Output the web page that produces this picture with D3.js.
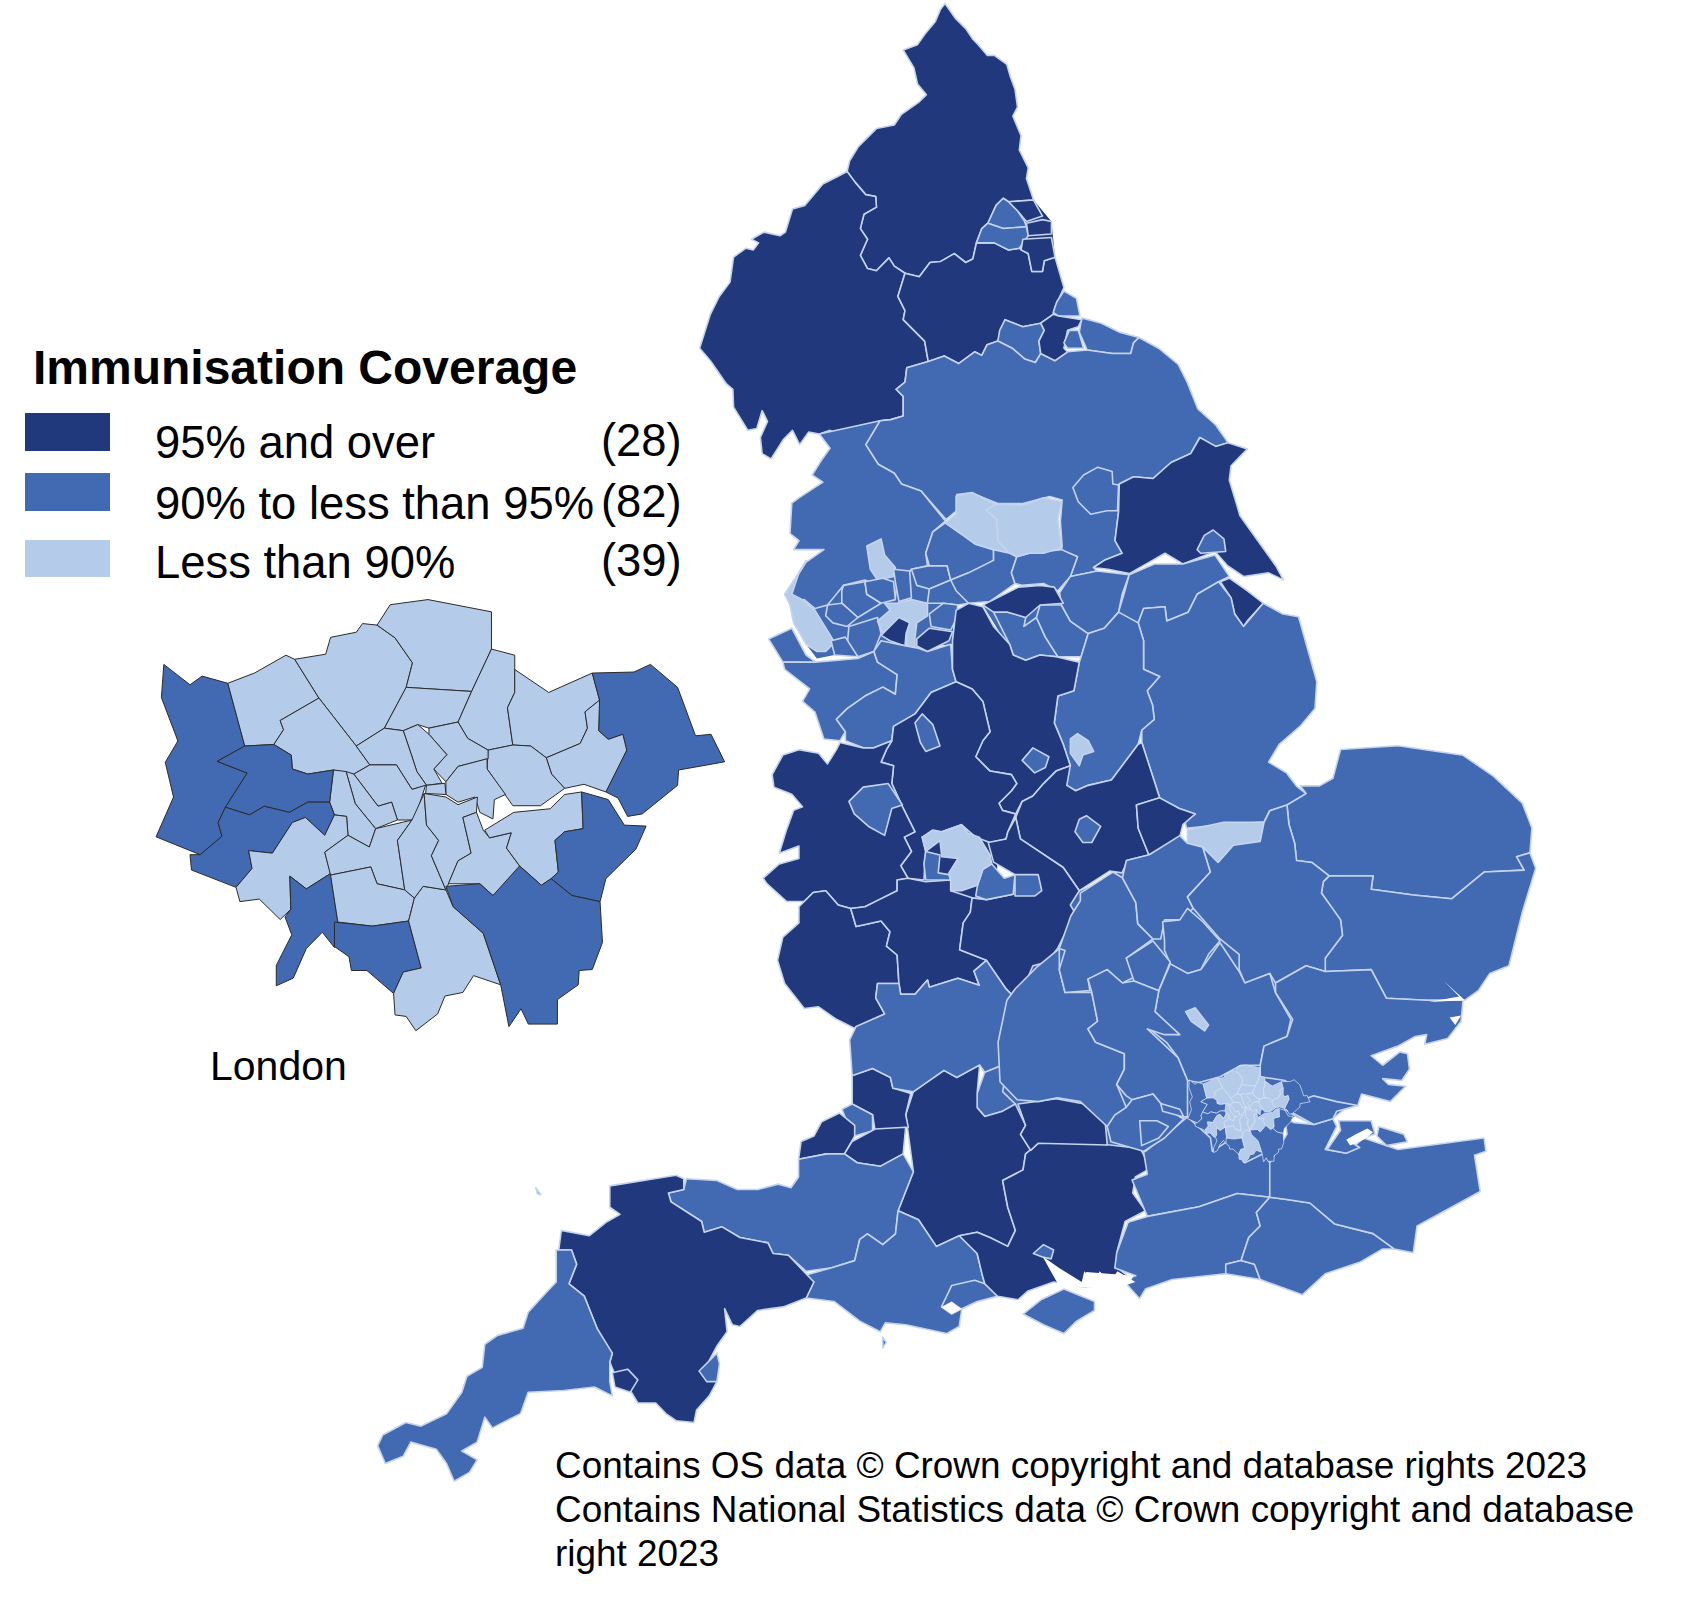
<!DOCTYPE html>
<html><head><meta charset="utf-8">
<script src="https://cdn.jsdelivr.net/npm/d3@7/dist/d3.min.js"></script>
<style>html,body{margin:0;background:#fff}svg{display:block}text{font-family:"Liberation Sans",Arial,sans-serif;fill:#000}</style>
</head><body><svg id="c" width="1698" height="1598"></svg>
<script>
const tierLabels=["95% and over","90% to less than 95%","Less than 90%"];
const tierCounts=["(28)","(82)","(39)"];
const tierColors=["#20387C","#426AB3","#B5CBEA"];
const legendTitle="Immunisation Coverage";
const insetLabel="London";
const creditLines=["Contains OS data © Crown copyright and database rights 2023","Contains National Statistics data © Crown copyright and database","right 2023"];

// area outlines: [coverage tier, outline in map units of that sheet]
const northAreas=[
[0,"742,10 770,50 800,80 820,110 835,125 860,155 880,155 915,180 925,215 938,250 945,300 932,325 955,380 950,420 975,470 970,500 990,560 920,565 905,555 885,575 862,625 845,640 830,680 820,725 800,735 768,710 730,732 700,735 670,775 630,765 600,745 585,722 550,758 525,752 505,715 525,670 505,640 515,600 550,580 548,550 520,545 490,510 468,480 475,450 500,410 550,360 600,350 620,320 670,285 690,265 665,235 655,190 625,140 665,125 690,90 715,60 730,25"],
[0,"468,480 490,510 520,545 548,550 550,580 515,600 505,640 525,670 505,715 525,752 550,758 585,722 600,745 630,765 610,830 630,870 625,895 685,955 695,1012 635,1030 630,1070 605,1090 625,1110 625,1165 590,1175 560,1178 520,1205 490,1205 465,1228 420,1205 390,1215 360,1210 335,1245 315,1205 290,1230 255,1285 230,1270 225,1225 245,1180 230,1150 215,1200 190,1205 150,1140 148,1090 130,1075 85,1010 55,975 85,880 110,830 140,790 150,720 185,695 205,700 220,680 200,670 235,650 280,660 295,650 315,585 350,575 400,515 440,495"],
[0,"630,765 670,775 700,735 730,732 768,710 800,735 820,725 830,680 880,680 920,700 950,695 975,710 985,760 1015,760 1020,730 1050,720 1075,805 1050,860 1045,880 1010,905 960,915 910,895 890,955 860,965 845,995 825,985 780,1018 740,997 695,1012 685,955 625,895 630,870 610,830"],
[1,"885,575 905,555 920,565 945,590 965,620 970,635 905,640 862,625"],
[1,"862,625 905,640 970,635 975,660 950,695 920,700 880,680 830,680 845,640"],
[0,"920,565 990,560 1015,605 970,620 945,590"],
[0,"970,625 1015,615 1040,620 1040,655 975,660"],
[0,"960,670 1040,665 1050,720 1020,730 1015,760 985,760 975,710 955,700"],
[1,"1075,815 1110,835 1120,885 1060,885 1045,875 1055,845"],
[1,"910,895 960,915 1010,905 1020,925 1005,955 1010,990 995,1015 965,1005 930,975 890,955 895,925"],
[1,"1125,890 1180,905 1230,930 1285,945 1270,960 1262,990 1210,990 1140,980 1118,930"],
[1,"635,1030 695,1012 740,997 780,1018 825,985 845,995 860,965 890,955 930,975 965,1005 995,1015 1010,990 1050,1010 1085,985 1140,980 1210,990 1262,990 1270,960 1285,945 1340,975 1395,1020 1420,1070 1450,1145 1500,1190 1535,1240 1500,1250 1455,1225 1430,1270 1375,1295 1325,1340 1270,1335 1230,1355 1228,1434 1218,1514 1238,1549 1188,1569 1158,1589 1168,1599 1093,1614 1113,1559 1068,1539 1070,1530 1065,1460 1070,1400 1035,1390 960,1410 890,1410 815,1380 775,1385 775,1430 745,1455 675,1375 620,1355 600,1325 555,1300 520,1245 560,1178 590,1175 625,1165 625,1110 605,1090 630,1070"],
[0,"1045,880 1060,885 1125,895 1115,915 1085,925 1075,975 1085,985 1050,1010 1010,990 1005,955 1020,925 1010,905"],
[1,"1090,925 1115,925 1130,975 1085,975 1075,960"],
[1,"1100,1365 1130,1330 1170,1308 1210,1320 1212,1355 1228,1358 1225,1430 1195,1430 1150,1440 1115,1405"]
];
const midlandAreas=[
[1,"392,-166 222,-129 252,-89 227,-54 202,-14 232,6 165,50 145,65 140,150 165,170 150,195 235,195 185,230 160,270 125,320 145,340 180,335 210,360 245,350 290,295 350,280 435,330 440,285 480,250 525,240 520,205 540,145 575,115 507,31 452,11 432,-19 387,-44 352,-99"],
[2,"355,185 395,165 405,210 435,245 430,270 385,280 365,250"],
[2,"125,320 155,275 185,225 165,260 145,320 175,335 210,365 250,430 265,455 240,480 215,480 185,460 150,400 140,350"],
[1,"290,295 350,285 355,320 395,345 330,385 285,345 285,310"],
[1,"245,350 285,345 330,385 300,410 260,400 240,380"],
[1,"350,285 400,275 430,285 435,335 395,345 355,320"],
[1,"430,250 475,255 480,330 445,340 435,285"],
[1,"480,250 530,240 580,240 590,280 530,305 495,295"],
[1,"530,305 590,280 640,345 610,350 570,345 525,345"],
[1,"305,410 385,385 395,430 375,480 330,495 300,465"],
[1,"255,450 295,440 330,495 265,490"],
[2,"405,345 440,345 480,335 525,345 525,380 495,400 490,440 490,470 465,465 470,395 440,395 400,430 385,395 420,365"],
[0,"395,435 445,385 475,400 465,430 462,465 420,450"],
[0,"495,445 530,415 595,425 585,450 525,480 495,465"],
[1,"530,375 570,345 610,350 605,390 590,420 535,410"],
[1,"80,445 145,415 185,490 215,512 120,510"],
[1,"575,120 625,155 660,180 710,195 710,225 640,260 590,280 580,240 530,240 520,205 540,145"],
[1,"590,280 640,260 710,225 710,195 735,190 775,215 760,260 770,290 700,340 640,345 605,310"],
[1,"775,215 810,205 900,195 945,215 925,270 890,310 850,290 790,295 770,290 760,260"],
[2,"575,120 605,95 605,45 650,35 715,68 690,85 720,110 722,170 755,205 710,195 660,180 625,155"],
[2,"715,68 790,70 850,50 900,60 890,110 900,190 850,205 810,205 775,215 755,205 722,170 720,110 690,85"],
[0,"1062,11 1102,-9 1156,-4 1207,-49 1262,-74 1288,-119 1332,-94 1366,-104 1421,-87 1375,-40 1370,0 1385,50 1400,100 1450,170 1500,240 1522,280 1480,260 1410,270 1365,240 1330,200 1240,235 1190,205 1155,225 1090,262 1030,250 990,245 1020,225 1070,205 1050,170 1060,90"],
[1,"1280,195 1300,155 1325,140 1355,165 1360,200 1290,205"],
[1,"120,510 210,510 330,500 375,480 385,510 440,545 435,600 400,580 350,605 300,640 270,670 295,705 280,730 235,725 210,650 175,620 195,585 125,530"],
[1,"375,480 395,450 465,465 495,470 525,480 590,460 595,530 605,565 535,595 490,655 430,690 425,730 375,750 345,750 295,730 295,705 270,670 300,640 350,605 400,580 435,600 440,545 385,510"],
[1,"710,370 750,370 800,385 795,410 830,385 855,440 890,495 840,490 800,505 765,490 755,460"],
[1,"830,385 840,350 900,350 925,395 975,430 955,495 890,495 855,440"],
[1,"895,315 925,270 1000,255 1090,265 1070,320 1060,370 1020,415 975,430 925,395 900,350"],
[1,"1090,265 1160,235 1240,235 1330,210 1370,270 1340,285 1280,320 1255,370 1195,395 1190,355 1130,360 1115,400 1060,385 1060,370 1075,320"],
[0,"1345,285 1370,275 1420,310 1465,345 1420,395 1410,410 1385,375 1375,330"],
[1,"1115,400 1130,360 1190,355 1195,395 1255,370 1280,320 1340,285 1375,330 1385,375 1410,410 1465,345 1520,375 1564,383 1615,565 1610,640 1568,690 1510,740 1480,790 1530,820 1558,857 1585,878 1532,910 1483,926 1467,958 1350,965 1250,975 1245,950 1275,935 1230,920 1175,890 1125,735 1125,700 1160,670 1155,630 1140,590 1175,550 1130,530 1130,450"],
[1,"975,430 1020,415 1060,370 1115,400 1130,450 1130,530 1175,550 1140,590 1155,630 1160,670 1125,700 1115,740 1040,840 975,855 940,870 915,855 905,810 925,800 905,740 880,680 890,605 935,590 950,510 955,495"],
[2,"925,725 945,710 975,730 990,760 960,770 950,800 925,765"],
[0,"605,365 640,345 680,355 710,410 755,460 765,490 800,505 840,490 885,495 950,510 935,590 890,605 880,680 905,740 925,800 885,815 850,850 820,885 790,900 772,935 735,925 725,905 760,870 775,850 760,825 700,815 660,775 680,730 700,705 680,620 650,585 605,565 595,530 595,450"],
[1,"790,785 820,750 865,775 855,805 825,820"],
[0,"680,350 780,300 840,295 880,300 905,345 840,350 800,385 750,370 710,370"],
[0,"885,815 925,800 915,855 940,870 975,855 1040,840 1115,740 1125,735 1175,890 1110,910 1115,975 1145,1050 1085,1065 1070,1100 1035,1095 950,1150 905,1085 785,1005 772,945 790,900 820,885 850,850"],
[1,"950,950 970,940 1010,970 985,1015 960,1015 938,985"],
[0,"1110,910 1175,890 1230,920 1275,935 1240,965 1230,1005 1145,1050 1115,975"],
[0,"430,690 490,655 535,595 605,565 650,585 680,620 700,705 680,730 660,775 700,815 760,825 775,850 760,870 725,905 735,925 772,935 750,985 745,1005 700,1015 660,1000 620,965 565,985 510,1000 520,1040 515,1120 470,1115 450,1080 480,1040 460,1000 490,985 455,915 425,850 430,800 395,790 410,755 425,730"],
[1,"490,680 510,655 540,685 560,745 520,760 505,735"],
[0,"280,735 345,750 375,750 425,730 410,755 395,790 430,800 425,850 455,915 490,985 460,1000 480,1040 450,1080 470,1115 440,1120 440,1150 390,1175 350,1195 310,1200 275,1190 240,1150 205,1155 180,1180 130,1180 75,1130 65,1115 110,1075 165,1060 165,1025 110,1045 130,980 150,925 175,915 145,880 95,860 90,825 120,770 165,755 220,765 245,795 270,755"],
[1,"305,900 345,860 415,850 455,910 425,920 405,995 360,970 320,935"],
[0,"205,1155 240,1150 275,1190 310,1200 325,1250 395,1235 420,1265 410,1305 440,1330 445,1410 385,1410 380,1450 405,1495 320,1535 270,1510 220,1475 180,1480 125,1410 105,1345 120,1280 165,1240 165,1195"],
[0,"310,1200 350,1195 390,1175 440,1150 440,1120 470,1115 520,1125 590,1120 590,1150 650,1170 645,1210 625,1240 615,1315 690,1345 655,1375 670,1415 610,1395 530,1420 525,1400 490,1440 450,1440 445,1410 440,1330 410,1305 420,1265 395,1235 325,1250"],
[0,"750,985 772,945 785,1005 905,1085 950,1150 925,1190 940,1215 915,1260 890,1310 860,1350 820,1360 795,1420 765,1445 745,1425 690,1345 615,1315 625,1240 645,1210 650,1170 690,1175 765,1160 770,1105 710,1070 695,1015 745,1005"],
[1,"520,1040 560,1050 555,1100 585,1105 590,1120 520,1120 515,1075"],
[1,"705,1075 740,1115 770,1105 765,1160 690,1175 660,1165 665,1135 680,1090"],
[1,"770,1105 835,1105 845,1150 825,1165 770,1165"],
[2,"510,1000 540,980 565,985 620,965 640,990 670,1000 700,1050 705,1075 680,1090 665,1135 620,1150 590,1150 590,1120 585,1100 610,1060 565,1055 560,1010 520,1040"],
[1,"325,1530 405,1495 380,1450 385,1410 445,1410 450,1440 490,1440 525,1400 530,1420 610,1395 670,1415 655,1375 690,1345 745,1425 765,1445 735,1540 735,1638 685,1658 671,1638 607,1673 571,1653 485,1713 428,1703 421,1673 371,1648 314,1668 307,1568"]
];
const southAreas=[
[1,"1190,150 1205,90 1240,70 1245,105 1240,145 1265,180 1240,200 1205,215 1190,190"],
[0,"1065,145 1125,85 1150,105 1195,70 1190,150 1190,190 1205,215 1240,200 1265,180 1285,240 1275,265 1295,310 1285,320 1280,365 1240,395 1250,470 1265,535 1250,580 1215,555 1190,540 1155,550 1110,580 1075,505 1035,480 1065,370 1050,210"],
[0,"945,100 985,80 1020,105 1025,135 1060,150 1050,210 1055,245 990,255 985,210 945,180"],
[1,"925,195 945,180 985,210 985,255 950,270 930,290 935,230"],
[0,"885,230 920,205 950,240 950,270 930,320 895,320 840,335 845,285 870,270"],
[0,"945,285 990,250 1050,245 1045,320 1000,355 955,345 930,320"],
[1,"840,335 895,320 930,320 955,345 1000,355 1045,320 1065,370 1035,480 1030,545 1005,575 975,545 960,560 950,620 905,640 855,650 820,605 790,600 780,570 725,555 690,525 655,540 650,510 590,455 585,430 615,420 620,390 680,395 720,420 760,420 800,405 825,415 840,385"],
[1,"855,660 905,640 950,620 960,560 975,545 1005,575 1030,545 1035,480 1075,505 1110,580 1155,550 1190,600 1200,660 1205,685 1230,720 1190,735 1160,755 1155,805 1130,825 1050,800 1010,795 1000,820 960,790 910,735 855,725 870,680"],
[1,"1120,750 1140,690 1185,675 1205,685 1230,720 1190,735 1160,755 1140,770"],
[0,"370,590 375,535 430,550 465,510 490,490 470,470 470,410 600,380 615,390 615,420 585,430 590,455 650,510 655,540 690,525 725,555 780,570 790,600 820,605 870,680 855,725 810,750 760,760 725,805 710,800 695,755 700,820 680,860 665,900 680,960 665,1000 640,1040 635,1075 600,1070 580,1050 560,1020 525,1020 510,985 480,940 470,905 475,880 455,850 445,810 420,720 390,685 405,630 395,590"],
[0,"475,935 505,925 525,955 510,990 480,975"],
[1,"645,930 680,880 685,910 680,960 660,960"],
[1,"365,590 395,590 405,630 390,685 420,720 445,810 475,880 470,905 470,960 475,1000 440,975 380,985 310,990 295,1050 240,1090 225,1060 210,1130 180,1155 210,1180 195,1215 165,1240 150,1190 130,1150 80,1130 65,1170 30,1190 15,1140 25,1110 70,1075 100,1085 150,1050 180,990 190,945 220,920 225,855 250,830 300,810 310,765 345,710 365,680"],
[1,"325,415 335,435 328,432"],
[1,"1005,835 1012,850 1005,865"],
[0,"1155,550 1190,540 1215,555 1250,580 1265,535 1250,470 1240,395 1280,365 1285,320 1310,290 1420,290 1510,305 1530,360 1500,385 1495,430 1520,480 1480,510 1465,590 1465,640 1500,680 1400,695 1340,680 1290,705 1270,730 1230,720 1205,685 1200,660 1190,600"],
[1,"1300,600 1320,575 1340,590 1335,615 1318,610"],
[0,"1270,180 1345,165 1400,180 1440,215 1445,295 1310,290 1295,310 1275,265 1285,240"],
[1,"1360,700 1420,735 1420,760 1385,790 1360,825 1320,800 1280,770 1315,730"]
];
const eastAreas=[
[1,"-5,790 0,893 45,940 100,945 150,935 210,945 280,1010 330,960 305,900 325,860 325,820 250,790 230,755 255,735 240,660 170,660 155,600 155,545 100,590 40,650 18,680"],
[1,"210,400 295,345 320,360 355,425 360,480 400,520 330,570 350,620 320,635 280,600 230,625 235,655 170,660 155,600 170,550 155,545 185,460 210,420"],
[2,"490,235 585,215 690,215 680,265 610,275 570,320 530,280 490,270"],
[1,"390,300 470,250 490,270 530,280 550,345 490,410 505,440 470,470 430,470 420,520 400,520 360,480 355,425 320,360 330,315"],
[1,"750,170 800,140 785,120 835,120 870,100 890,25 1040,15 1210,40 1290,95 1365,165 1390,230 1385,295 1350,305 1370,340 1265,345 1180,415 1080,405 970,390 975,355 860,355 815,320 775,315 770,270 755,220"],
[1,"860,355 975,355 970,390 1080,405 1180,415 1265,345 1370,340 1350,305 1385,295 1400,335 1365,450 1340,550 1330,590 1280,610 1250,655 1215,680 1115,680 1010,675 970,600 850,605 850,570 895,510 890,470 840,400 845,370"],
[1,"825,470 835,455 860,480 845,500 825,495"],
[1,"490,410 550,345 530,280 570,320 610,275 680,265 690,215 705,185 750,170 755,220 770,270 775,315 815,320 860,355 845,370 840,400 890,470 895,510 850,570 850,605 800,590 720,635 705,610 640,635 625,600 625,560 575,520 540,480 505,440"],
[1,"430,525 425,475 470,470 490,440 530,475 575,525 545,560 525,600 490,610 445,585 430,550"],
[1,"330,570 400,525 445,580 415,655 350,630 340,600"],
[1,"445,585 490,610 525,600 575,530 625,605 640,635 705,610 720,660 760,730 750,775 690,800 680,850 630,850 575,880 520,895 490,890 465,830 435,790 390,755 400,745 465,770 405,710 415,655"],
[2,"485,710 510,700 545,745 535,760 500,735"],
[1,"230,625 280,600 320,635 350,630 415,655 405,710 470,770 430,770 385,755 465,830 490,890 490,985 470,985 420,950 400,925 345,940 330,930 305,900 325,860 325,820 250,790 230,755 255,735 240,660"],
[1,"380,1075 430,1035 490,985 550,1040 555,1075 600,1045 640,1105 690,1080 705,1105 705,1195 620,1185 520,1220 385,1245 345,1150 385,1135 375,1075"],
[1,"290,1050 280,1010 300,980 330,960 345,940 400,925 420,950 470,985 480,990 430,1040 375,1075"],
[1,"365,995 410,995 440,1010 415,1040 370,1060"],
[1,"420,950 470,965 480,985 425,970"],
[1,"385,1245 520,1220 620,1185 705,1195 670,1235 680,1270 650,1300 630,1360 590,1370 590,1395 450,1410 380,1435 365,1460 320,1410 355,1400 300,1380 305,1340 335,1260"],
[1,"590,1370 630,1360 665,1370 680,1410 590,1395"],
[1,"705,1195 745,1200 810,1210 875,1265 975,1290 1030,1330 1000,1330 940,1365 850,1395 790,1450 680,1410 665,1370 630,1360 650,1300 680,1270 670,1235"],
[1,"705,1105 750,1030 745,990 770,1000 820,1005 870,990 880,1010 850,1070 905,1080 950,1040 1040,1070 1265,1040 1270,1075 1240,1085 1255,1180 1090,1270 1080,1340 1030,1330 975,1290 875,1265 810,1210 745,1200 705,1195"],
[1,"990,1010 1055,1030 1065,1050 1010,1060 985,1035"],
[1,"855,1070 890,1020 885,995 970,995 980,1030 915,1050 940,1065 905,1080"],
[1,"680,850 690,800 750,775 765,730 720,660 720,635 800,590 850,605 970,600 1010,675 1115,680 1210,680 1205,735 1170,780 1110,795 1115,770 1085,775 1040,800 970,825 1000,850 1045,815 1065,820 1070,860 1050,890 1000,885 1015,900 1060,905 1020,945 945,925 935,955 900,965 875,985 820,1005 775,985 745,965 760,940 765,905 745,890 680,880"],
[1,"765,950 820,930 880,945 935,955 880,970 870,990 820,1005 775,980 745,965"]
];
// plain underlay that keeps neighbouring areas touching
const northUnderlay=[[0,"920,565 990,560 1040,620 1050,720 955,700 970,625"]];
const midUnderlay=[
[1,"145,340 290,295 480,250 590,280 600,345 595,460 375,480 265,490 215,500 185,460"],
[1,"680,350 905,345 975,430 955,495 765,490"],
[0,"480,960 720,960 720,1170 480,1170"]
];
const eastUnderlay=[[1,"0,700 200,400 400,300 800,300 1000,600 900,900 745,1000 705,1190 300,1100 10,1000"]];
// London boroughs: shown in the inset and again inside the England map
const londonAreas=[
[1,"338,675 392,715 417,698 470,712 505,835 448,865 510,888 465,955 450,985 458,1012 413,1048 322,1013 358,935 341,867 367,825 333,740"],
[2,"470,712 525,692 590,657 608,665 658,741 578,785 585,803 565,832 505,835"],
[2,"608,665 672,655 682,622 735,612 748,595 778,598 815,623 851,672 838,720 793,800 735,835 658,741"],
[2,"778,598 805,558 883,548 1014,572 1014,645 973,728 838,720 851,672 815,623"],
[2,"658,741 735,835 763,872 730,890 688,882 635,890 603,880 601,853 565,832 585,803 578,785"],
[2,"838,720 973,728 945,788 885,800 862,793 832,805 793,800"],
[2,"1014,645 1062,657 1062,730 1047,760 1058,833 1007,843 965,820 945,788 973,728"],
[2,"1062,685 1132,730 1222,692 1237,745 1207,768 1212,800 1197,830 1127,858 1095,835 1058,833 1047,760 1062,730"],
[1,"1222,692 1308,690 1342,675 1398,720 1435,815 1467,812 1495,866 1400,882 1398,912 1325,968 1295,973 1275,937 1250,925 1293,843 1285,812 1255,822 1235,805 1237,745"],
[2,"1237,745 1235,805 1255,822 1285,812 1293,843 1250,925 1205,910 1165,918 1138,890 1127,858 1197,830 1212,800 1207,768"],
[2,"1007,843 1058,833 1095,835 1127,858 1138,890 1165,918 1115,952 1058,952 1005,880"],
[2,"885,800 945,788 965,820 1007,843 1007,860 945,875 920,905 895,880 922,852 885,812"],
[2,"832,805 862,793 885,812 922,852 895,880 912,908 880,912 860,885 848,850"],
[2,"735,835 793,800 832,805 848,850 860,885 880,912 850,920 818,872 763,872"],
[2,"920,905 945,875 1005,860 1005,880 1043,930 1020,940 1017,978 990,965 980,935 945,945 920,930"],
[2,"880,912 918,908 920,930 878,928"],
[2,"763,872 818,872 850,920 878,912 855,980 820,980 808,945 780,953 730,890"],
[2,"714,885 730,890 780,953 808,945 820,980 775,997 733,948"],
[2,"688,882 714,885 733,948 775,997 762,1033 718,1010 715,973 690,970 680,945"],
[1,"448,865 505,835 565,832 601,853 603,880 635,890 688,882 680,945 635,945 597,965 545,953 515,970 465,955 510,888"],
[1,"465,955 515,970 545,953 597,965 635,945 680,945 690,970 670,1010 630,975 603,985 562,1045 513,1040 520,1075 487,1112 395,1078 392,1048 413,1048 458,1012 450,985"],
[2,"487,1112 520,1075 513,1040 562,1045 603,985 630,975 670,1010 690,970 715,973 718,1010 670,1043 682,1085 632,1115 598,1090 600,1155 578,1175 535,1135 495,1140"],
[1,"598,1090 632,1115 682,1085 697,1180 690,1230 665,1200 632,1232 605,1290 570,1305 570,1265 602,1205 588,1170 600,1155"],
[2,"670,1043 718,1010 762,1033 775,997 850,980 820,1020 835,1117 778,1105 765,1072 682,1088"],
[2,"682,1088 765,1072 778,1105 835,1117 855,1133 843,1178 768,1188 697,1180"],
[1,"690,1180 768,1188 843,1178 869,1270 832,1278 812,1320 757,1275 725,1275 720,1248 690,1228"],
[2,"855,1133 873,1110 920,1117 935,1150 997,1202 1033,1303 977,1285 955,1318 918,1325 903,1360 858,1393 838,1365 815,1362 812,1320 832,1278 869,1270 843,1178"],
[2,"850,980 875,928 880,990 905,1020 890,1050 920,1117 873,1110 855,1133 835,1117 820,1020"],
[2,"875,928 920,935 945,950 985,935 983,965 955,975 972,1045 945,1060 920,1117 890,1050 905,1020 880,990"],
[2,"983,965 997,1000 1010,1015 1055,1005 1045,1035 1072,1070 1065,1095 1017,1128 990,1105 925,1105 945,1060 972,1045 955,975"],
[2,"1000,1000 1060,965 1135,958 1165,930 1200,925 1203,997 1165,1003 1145,1020 1152,1082 1137,1095 1117,1108 1072,1070 1045,1035 1055,1005 1010,1015"],
[1,"1200,925 1255,940 1288,990 1333,992 1312,1037 1250,1095 1238,1140 1180,1128 1137,1095 1152,1082 1145,1020 1165,1003 1203,997"],
[1,"920,1110 990,1105 1017,1128 1072,1070 1117,1108 1137,1095 1180,1128 1238,1140 1243,1220 1222,1273 1195,1275 1193,1303 1150,1332 1150,1380 1090,1380 1075,1350 1050,1385 1033,1303 997,1202 935,1150"]
];
// estuaries cut through the land
const waterSouth=["1318,608 1350,640 1395,680 1400,650 1420,680 1430,650 1450,680 1465,650 1500,680 1460,700 1400,695 1350,690","1120,750 1140,735 1160,755 1140,770"];
const waterEast=["915,1060 905,1045 930,1030 960,1015 975,1025 950,1045","1160,630 1215,680 1120,685 1200,670","1175,725 1205,720 1190,745","225,1390 350,1400 340,1415 225,1425"];

const svg=d3.select("#c");
const sheet=(x0,y0,w,h)=>({x:d3.scaleLinear().domain([0,1568]).range([x0,x0+w]),y:d3.scaleLinear().domain([0,1568]).range([y0,y0+h])});
const parse=s=>s.trim().split(/\s+/).map(p=>p.split(",").map(Number));
const outline=(sh,s)=>d3.line().x(d=>sh.x(d[0])).y(d=>sh.y(d[1])).curve(d3.curveLinearClosed)(parse(s));

const northSheet=sheet(680,0,560,560), midSheet=sheet(740,480,560,560), eastSheet=sheet(1000,740,600,600), southSheet=sheet(370,1040,800,558), insetSheet=sheet(0,320,760,800);
const miniSheet={x:d3.scaleLinear().domain([320,1495]).range([1187.5,1310]),y:d3.scaleLinear().domain([548,1395]).range([1065,1163])};

const defs=svg.append("defs");
defs.append("filter").attr("id","soft").append("feGaussianBlur").attr("stdDeviation",0.55);
const map=svg.append("g").attr("filter","url(#soft)");
const draw=(g,sh,list,stroke,sw)=>g.selectAll(null).data(list).join("path")
  .attr("d",d=>outline(sh,d[1])).attr("fill",d=>tierColors[d[0]])
  .attr("stroke",stroke).attr("stroke-width",sw).attr("stroke-linejoin","round");
const inner="#C5D4EE";
draw(map.append("g"),northSheet,northUnderlay,"none",0);
draw(map.append("g"),midSheet,midUnderlay,"none",0);
draw(map.append("g"),eastSheet,eastUnderlay,"none",0);
const lay=(sh,list)=>draw(map.append("g"),sh,list,inner,1.6);
lay(northSheet,northAreas);
lay(southSheet,southAreas);
lay(midSheet,midlandAreas);
lay(eastSheet,eastAreas);
draw(map.append("g"),miniSheet,londonAreas,"#DCE6F6",0.7);
map.append("g").selectAll(null).data(waterSouth).join("path").attr("d",d=>outline(southSheet,d)).attr("fill","#fff");
map.append("g").selectAll(null).data(waterEast).join("path").attr("d",d=>outline(eastSheet,d)).attr("fill","#fff");

draw(svg.append("g"),insetSheet,londonAreas,"#2b2b2b",1);

svg.append("text").attr("x",33).attr("y",384).attr("font-size",48).attr("font-weight",700).text(legendTitle);
const swatchY=d3.scaleOrdinal().domain(tierLabels).range([413,473,540]);
const swatchH=[38,38,37], rowY=[458,519,578];
tierLabels.forEach((t,i)=>{
  svg.append("rect").attr("x",25).attr("y",swatchY(t)).attr("width",85).attr("height",swatchH[i]).attr("fill",tierColors[i]);
  svg.append("text").attr("x",155).attr("y",rowY[i]).attr("font-size",45.4).text(t);
  svg.append("text").attr("x",601).attr("y",rowY[i]-2).attr("font-size",45.4).text(tierCounts[i]);
});
svg.append("text").attr("x",210).attr("y",1080).attr("font-size",41).text(insetLabel);
creditLines.forEach((t,i)=>svg.append("text").attr("x",555).attr("y",1478+i*44).attr("font-size",36.9).text(t));
</script></body></html>
